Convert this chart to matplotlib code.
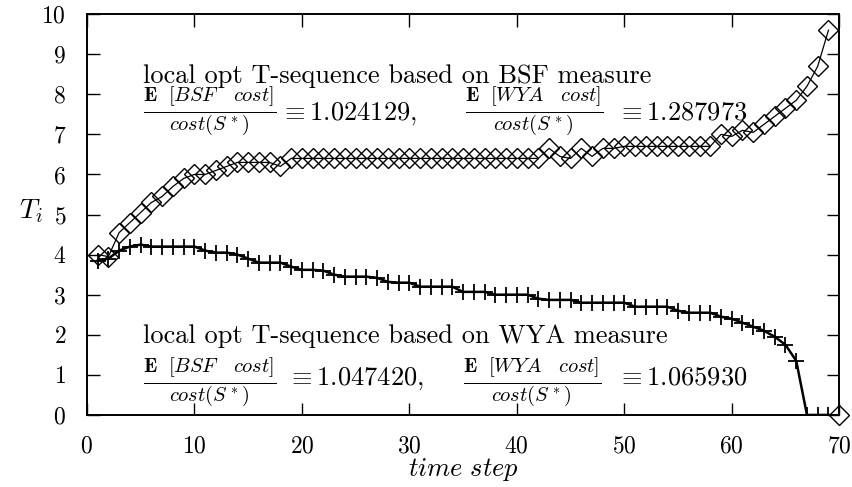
import matplotlib
matplotlib.use("Agg")
import matplotlib.pyplot as plt

plt.rcParams["font.family"] = "serif"
plt.rcParams["font.serif"] = ["cmr10", "DejaVu Serif"]
plt.rcParams["mathtext.fontset"] = "cm"
plt.rcParams["axes.formatter.use_mathtext"] = True

# time steps 1..69
steps = list(range(1, 70))

# T-sequence based on BSF measure (diamonds)
t_bsf = [4.0, 3.95, 4.55, 4.8, 5.05, 5.3, 5.45, 5.7, 5.9, 6.0,
         6.0, 6.1, 6.2, 6.3, 6.3, 6.3, 6.3, 6.2, 6.4, 6.4,
         6.4, 6.4, 6.4, 6.4, 6.4, 6.4, 6.4, 6.4, 6.4, 6.4,
         6.4, 6.4, 6.4, 6.4, 6.4, 6.4, 6.4, 6.4, 6.4, 6.4,
         6.4, 6.4, 6.65, 6.45, 6.4, 6.65, 6.45, 6.65, 6.65, 6.7,
         6.7, 6.7, 6.7, 6.7, 6.7, 6.7, 6.7, 6.7, 7.0, 6.95,
         7.1, 7.05, 7.25, 7.45, 7.65, 7.85, 8.2, 8.7, 9.6]

# T-sequence based on WYA measure (pluses)
t_wya = [3.85, 3.9, 4.1, 4.2, 4.25, 4.2, 4.2, 4.2, 4.2, 4.2,
         4.1, 4.05, 4.05, 4.0, 3.9, 3.8, 3.8, 3.8, 3.7, 3.62,
         3.62, 3.6, 3.5, 3.45, 3.45, 3.45, 3.42, 3.32, 3.3, 3.3,
         3.2, 3.2, 3.2, 3.2, 3.07, 3.07, 3.07, 3.0, 3.0, 3.0,
         3.0, 2.9, 2.87, 2.87, 2.87, 2.8, 2.8, 2.8, 2.8, 2.8,
         2.7, 2.7, 2.7, 2.7, 2.6, 2.55, 2.55, 2.55, 2.45, 2.4,
         2.3, 2.2, 2.1, 1.95, 1.75, 1.35, 0.0, 0.0, 0.0]

# lone diamond at the end of the time axis
end_step = [70]
end_val = [0.0]

fig = plt.figure(figsize=(8.52, 4.87), dpi=100)
ax = fig.add_axes([0.102, 0.148, 0.883, 0.823])

ax.plot(steps, t_bsf, color="black", lw=0.9, marker="D", ms=10,
        mfc="none", mec="black", mew=1.0)
ax.plot(steps, t_wya, color="black", lw=1.8, marker="+", ms=11,
        mec="black", mew=1.3)
ax.plot(end_step, end_val, ls="none", marker="D", ms=10,
        mfc="none", mec="black", mew=1.0, clip_on=False)

ax.set_xlim(0, 70)
ax.set_ylim(0, 10)
ax.set_xticks(range(0, 71, 10))
ax.set_yticks(range(0, 11))
ax.tick_params(direction="in", top=True, right=True, length=9,
               width=1.0, labelsize=17, pad=15)
for s in ax.spines.values():
    s.set_linewidth(1.4)

ax.set_xlabel(r"$time\ step$", fontsize=19, va="center")
ax.xaxis.set_label_coords(0.5, -0.135)
ax.set_ylabel(r"$T_i$", fontsize=20, rotation=0, va="center", ha="center")
ax.yaxis.set_label_coords(-0.0745, 0.509)

fs_text = 19
fs_frac = 21
fs_num = 19

# upper annotation (BSF measure)
ax.text(5.2, 8.28, "local opt T-sequence based on BSF measure",
        fontsize=fs_text, va="baseline", ha="left")
ax.text(5.2, 7.57, r"$\frac{\mathbf{E}\ \ [BSF\ \ \ cost]}{cost(S^*)}$",
        fontsize=fs_frac, va="center", ha="left")
ax.text(18.0, 7.36, r"$\equiv 1.024129,$",
        fontsize=fs_num, va="baseline", ha="left")
ax.text(35.2, 7.57, r"$\frac{\mathbf{E}\ \ [WYA\ \ \ cost]}{cost(S^*)}$",
        fontsize=fs_frac, va="center", ha="left")
ax.text(49.3, 7.36, r"$\equiv 1.287973$",
        fontsize=fs_num, va="baseline", ha="left")

# lower annotation (WYA measure)
ax.text(5.2, 1.80, "local opt T-sequence based on WYA measure",
        fontsize=fs_text, va="baseline", ha="left")
ax.text(5.2, 0.80, r"$\frac{\mathbf{E}\ \ [BSF\ \ \ cost]}{cost(S^*)}$",
        fontsize=fs_frac, va="center", ha="left")
ax.text(18.6, 0.75, r"$\equiv 1.047420,$",
        fontsize=fs_num, va="baseline", ha="left")
ax.text(35.0, 0.80, r"$\frac{\mathbf{E}\ \ [WYA\ \ \ cost]}{cost(S^*)}$",
        fontsize=fs_frac, va="center", ha="left")
ax.text(49.3, 0.75, r"$\equiv 1.065930$",
        fontsize=fs_num, va="baseline", ha="left")

fig.savefig("out.png", dpi=100)
